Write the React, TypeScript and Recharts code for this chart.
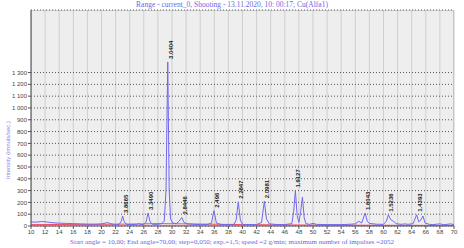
import React from "react"
import {
  ComposedChart, Line, Scatter, XAxis, YAxis, CartesianGrid, ReferenceArea,
} from "recharts"

const angles = [
  10, 10.5, 11, 11.5, 12, 12.5, 13, 14, 15, 16, 17, 18, 19, 20, 20.6, 20.9, 21.2, 21.8,
  22.5, 22.8, 23.0, 23.2, 23.5, 24, 25, 25.3, 25.6, 26, 26.3, 26.6, 26.9, 27.2, 28, 28.5,
  28.9, 29.15, 29.4, 29.6, 29.8, 30.1, 30.6, 31.0, 31.4, 31.7, 32.2, 33, 34, 35, 35.6,
  35.95, 36.3, 37, 38, 38.8, 39.1, 39.4, 39.7, 40, 41, 42, 42.7, 43.1, 43.4, 43.8, 45, 46,
  47, 47.25, 47.5, 47.75, 48.0, 48.25, 48.5, 48.75, 49.0, 49.5, 50, 50.5, 52, 54, 55, 56,
  56.5, 56.9, 57.4, 57.7, 58, 59, 60, 60.4, 60.7, 61, 61.4, 61.8, 62.5, 63, 63.5, 64.2,
  64.7, 65.0, 65.3, 65.6, 65.9, 66.5, 67, 68, 68.5, 69, 69.5, 70,
]
const intensity = [
  35, 33, 34, 38, 36, 32, 28, 24, 22, 20, 18, 16, 15, 18, 25, 30, 20, 14,
  14, 40, 85, 40, 15, 12, 14, 20, 12, 14, 30, 110, 35, 15, 14, 20,
  40, 300, 1390, 300, 60, 25, 20, 40, 72, 30, 18, 14, 12, 12, 25,
  130, 25, 12, 12, 14, 50, 205, 50, 14, 12, 12, 30, 210, 60, 18, 12, 12,
  20, 120, 300, 90, 30, 120, 245, 70, 20, 14, 22, 14, 12, 12, 14, 18,
  40, 25, 110, 40, 22, 15, 14, 40, 95, 55, 40, 20, 14, 18, 14, 20,
  95, 35, 50, 85, 25, 14, 12, 18, 12, 14, 18, 12,
]

// background curve (red)
const bgAngles = [10, 20, 25, 28, 32, 40, 50, 60, 70]
const bgValues = [12, 14, 17, 20, 18, 12, 8, 6, 5]

// labelled peaks: angle, height, d-spacing
const peakAngles = [23.0, 26.6, 29.4, 31.4, 35.95, 39.4, 43.1, 47.5, 57.4, 60.7, 64.7]
const peakHeights = [85, 110, 1390, 72, 130, 205, 210, 300, 110, 95, 95]
const peakLabels = ["3.8665", "3.3490", "3.0404", "2.8446", "2.496", "2.2847", "2.0981", "1.9127", "1.6043", "1.5236", "1.4393"]

const xTicks = [10, 12, 14, 16, 18, 20, 22, 24, 26, 28, 30, 32, 34, 36, 38, 40, 42, 44, 46, 48, 50, 52, 54, 56, 58, 60, 62, 64, 66, 68, 70]
const yTicks = [0, 100, 200, 300, 400, 500, 600, 700, 800, 900, 1000, 1100, 1200, 1300]

const scan = angles.map((a, i) => ({ angle: a, value: intensity[i] }))
const background = bgAngles.map((a, i) => ({ angle: a, value: bgValues[i] }))
const peaks = peakAngles.map((a, i) => ({ angle: a, value: peakHeights[i], label: peakLabels[i] }))

// "1 300" style, with a non-breaking space so the tick text stays on one line
const fmtY = (v: number) => (v >= 1000 ? `${Math.floor(v / 1000)}\u00a0${String(v % 1000).padStart(3, "0")}` : String(v))

const PeakLabel = (props: any) => {
  const { cx, cy, payload } = props
  if (cx == null) return null
  return (
    <text
      x={cx + 5}
      y={cy - 3}
      transform={`rotate(-90 ${cx + 5} ${cy - 3})`}
      fontSize={6}
      fontWeight="bold"
      fontFamily="Liberation Sans, Arial, sans-serif"
      fill="#222"
      textAnchor="start"
    >
      {payload.label}
    </text>
  )
}

const tickStyle = { fontSize: 6, fill: "#444", fontFamily: "Liberation Sans, Arial, sans-serif" }

export default function App() {
  return (
    <div style={{ position: "fixed", left: 0, top: 0, width: 464, height: 248, background: "#fff" }}>
      <div style={{ position: "absolute", left: 0, top: 0, width: 464, textAlign: "center", fontFamily: "Liberation Serif, serif", fontSize: 7.5, color: "#6a66e8", lineHeight: "9px" }}>
        Range - current_0, Shooting - 13.11.2020, 10: 00:17; Cu(Alfa1)
      </div>
      <div style={{ position: "absolute", left: 0, top: 238, width: 464, textAlign: "center", fontFamily: "Liberation Serif, serif", fontSize: 7, color: "#6a66e8", lineHeight: "9px" }}>
        Start angle = 10,00; End angle=70,00; step=0,050; exp.=1,5; speed =2 g/min; maximum number of impulses =2052
      </div>
      <div style={{ position: "absolute", left: 8, top: 150, transform: "translate(-50%, -50%) rotate(-90deg)", whiteSpace: "nowrap", fontFamily: "Liberation Sans, Arial, sans-serif", fontSize: 6, color: "#8884ee" }}>
        Intensity (imnuls/sec.)
      </div>
      <ComposedChart width={464} height={248} margin={{ top: 10, right: 10, bottom: 10, left: 7 }}>
        <CartesianGrid horizontal={false} stroke="#cfcfcf" fill="#eeeeee" />
        <CartesianGrid vertical={false} stroke="#555" strokeDasharray="1 2" />
        <ReferenceArea x1={10} x2={70} y1={0} y2={1830} fill="none" stroke="#a8a8a8" ifOverflow="hidden" />
        <XAxis
          type="number"
          dataKey="angle"
          domain={[10, 70]}
          ticks={xTicks}
          interval={0}
          allowDataOverflow
          height={12}
          tick={tickStyle}
          tickSize={3}
          tickMargin={1}
          stroke="#555"
        />
        <YAxis
          type="number"
          dataKey="value"
          domain={[0, 1830]}
          ticks={yTicks}
          interval={0}
          allowDataOverflow
          width={24}
          tick={tickStyle}
          tickFormatter={fmtY}
          tickSize={3}
          tickMargin={1}
          stroke="#555"
        />
        <Line data={background} dataKey="value" type="monotone" stroke="#f0506a" strokeWidth={1} dot={false} isAnimationActive={false} />
        <Line data={scan} dataKey="value" type="linear" stroke="#7268f0" strokeWidth={1} dot={false} isAnimationActive={false} />
        <Scatter data={peaks} dataKey="value" shape={PeakLabel} isAnimationActive={false} />
      </ComposedChart>
    </div>
  )
}
